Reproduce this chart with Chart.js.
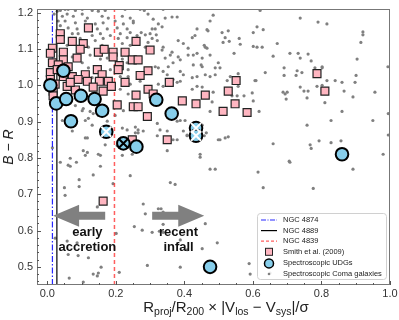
<!DOCTYPE html>
<html>
<head>
<meta charset="utf-8">
<script src="https://cdn.jsdelivr.net/npm/chart.js@4.4.1/dist/chart.umd.min.js"></script>
<style>
  body { margin: 0; background: #fff; }
  #wrap { position: relative; width: 399px; height: 320px; }
  #xtitle {
    position: absolute; top: 298px; left: 52px; width: 348px;
    text-align: center; font: 15px "Liberation Sans", Arial, sans-serif; color: #222;
    white-space: nowrap;
  }
  #xtitle sub { font-size: 10.5px; vertical-align: -3px; line-height: 0; }
</style>
</head>
<body>
<div id="wrap">
  <canvas id="myChart" width="399" height="320"></canvas>
  <div id="xtitle">R<sub>proj</sub>/R<sub>200</sub> × |V<sub>los</sub> − V<sub>sys</sub>|/σ</div>
</div>
<script>
// axis limits
const xMin = -0.03, xMax = 1.0
const yMin = 0.45, yMax = 1.21

// cluster reference lines (x positions)
const ngc4874 = 0.015
const ngc4889 = 0.028
const ngc4839 = 0.196

// spectroscopic UDGs
const udgs = [[0.009,1.000],[0.047,1.040],[0.026,0.950],[0.055,0.962],[0.098,0.971],[0.138,0.962],
  [0.160,0.930],[0.069,0.901],[0.172,0.872],[0.222,0.840],[0.260,0.831],[0.318,0.960],[0.363,0.922],
  [0.434,0.882],[0.434,0.861],[0.860,0.810],[0.475,0.500]]
const crossedWhite = [[0.172,0.872],[0.434,0.882],[0.434,0.861]]
const crossedBlack = [[0.222,0.840]]

// Smith et al. (2009)
const smith = [[0.120,1.158],[0.038,1.142],[0.038,1.126],[0.073,1.121],[0.105,1.115],[0.259,1.121],
  [0.015,1.102],[0.047,1.091],[0.096,1.099],[0.009,1.088],[0.149,1.091],[0.166,1.099],[0.192,1.091],
  [0.192,1.078],[0.227,1.091],[0.300,1.097],[0.087,1.075],[0.047,1.070],[0.015,1.062],[0.032,1.056],
  [0.061,1.051],[0.248,1.070],[0.265,1.070],[0.210,1.054],[0.146,1.043],[0.207,1.043],[0.294,1.040],
  [0.160,1.029],[0.271,1.027],[0.111,1.029],[0.047,1.024],[0.073,1.024],[0.009,1.035],[0.009,1.016],
  [0.090,1.016],[0.117,1.011],[0.152,1.011],[0.178,1.011],[0.227,1.008],[0.356,1.008],[0.058,0.997],
  [0.134,0.995],[0.187,0.997],[0.017,0.984],[0.082,0.987],[0.163,0.984],[0.294,0.989],[0.017,0.971],
  [0.259,0.973],[0.309,0.976],[0.394,0.957],[0.434,0.949],[0.204,0.946],[0.251,0.941],[0.265,0.941],
  [0.292,0.914],[0.350,0.850],[0.248,0.850],[0.461,0.973],[0.528,0.984],[0.513,0.928],[0.551,1.013],
  [0.548,0.949],[0.583,0.925],[0.787,1.032],[0.810,0.984],[0.163,0.681],[0.029,1.043],[0.023,1.003],
  [0.067,1.008]]

// spectroscopic Coma galaxies
const coma = [[0.029,1.204],[0.038,1.206],[0.052,1.209],[0.061,1.209],[0.082,1.206],[0.102,1.209],
  [0.131,1.206],[0.149,1.204],[0.169,1.206],[0.227,1.209],[0.020,1.196],[0.044,1.190],[0.058,1.196],
  [0.076,1.190],[0.102,1.196],[0.117,1.185],[0.160,1.190],[0.178,1.185],[0.219,1.190],[0.242,1.185],
  [0.032,1.177],[0.052,1.177],[0.082,1.172],[0.111,1.177],[0.140,1.169],[0.163,1.172],[0.198,1.177],
  [0.222,1.169],[0.251,1.172],[0.038,1.164],[0.061,1.158],[0.087,1.155],[0.146,1.155],[0.175,1.155],
  [0.204,1.158],[0.233,1.155],[0.047,1.145],[0.073,1.142],[0.090,1.142],[0.131,1.137],[0.155,1.142],
  [0.184,1.137],[0.213,1.142],[0.067,1.129],[0.096,1.129],[0.140,1.123],[0.163,1.129],[0.207,1.129],
  [0.233,1.131],[0.058,1.110],[0.120,1.105],[0.160,1.110],[0.219,1.115],[0.242,1.110],[0.073,1.078],
  [0.125,1.083],[0.155,1.072],[0.175,1.075],[0.219,1.072],[0.233,1.062],[0.102,1.062],[0.120,1.048],
  [0.207,1.051],[0.236,1.043],[0.184,1.043],[0.213,1.024],[0.236,1.024],[0.131,1.021],
  [0.271,1.209],[0.283,1.206],[0.338,1.209],[0.294,1.196],[0.309,1.182],[0.344,1.185],[0.364,1.188],
  [0.379,1.188],[0.324,1.169],[0.335,1.161],[0.475,1.177],[0.484,1.193],[0.251,1.177],[0.242,1.145],
  [0.274,1.145],[0.262,1.137],[0.306,1.155],[0.315,1.155],[0.300,1.142],[0.318,1.139],[0.286,1.139],
  [0.437,1.155],[0.423,1.131],[0.431,1.137],[0.397,1.115],[0.382,1.123],[0.510,1.145],[0.519,1.131],
  [0.469,1.150],[0.513,1.118],[0.306,1.129],[0.294,1.118],[0.321,1.123],[0.286,1.105],[0.262,1.113],
  [0.338,1.105],[0.335,1.097],[0.364,1.091],[0.411,1.102],[0.461,1.105],[0.466,1.102],[0.426,1.083],
  [0.411,1.083],[0.437,1.088],[0.452,1.075],[0.475,1.083],[0.344,1.075],[0.359,1.083],[0.382,1.078],
  [0.388,1.070],[0.367,1.062],[0.426,1.056],[0.449,1.056],[0.499,1.062],[0.504,1.048],[0.490,1.048],
  [0.353,1.051],[0.315,1.051],[0.324,1.048],[0.338,1.038],[0.350,1.029],[0.388,1.038],[0.397,1.029],
  [0.461,1.029],[0.475,1.024],[0.437,1.024],[0.423,1.021],[0.367,1.016],[0.388,1.011],[0.490,1.029],
  [0.534,1.024],[0.621,1.206],[0.738,1.185],[0.790,1.174],[0.528,1.150],[0.612,1.161],[0.630,1.153],
  [0.601,1.145],[0.560,1.129],[0.531,1.121],[0.563,1.113],[0.601,1.107],[0.612,1.105],[0.627,1.105],
  [0.671,1.115],[0.545,1.088],[0.659,1.080],[0.708,1.088],[0.732,1.088],[0.761,1.086],[0.738,1.075],
  [0.770,1.067],[0.802,1.048],[0.691,1.048],[0.636,1.035],[0.691,1.027],[0.729,1.040],[0.743,1.035],
  [0.726,1.027],[0.781,1.048],[0.557,1.032],[0.606,1.013],[0.466,1.153],[0.458,1.110],[0.452,1.051],
  [0.816,1.169],[0.921,1.147],[0.921,1.139],[0.915,1.118],[0.904,1.072],[0.994,1.051],[0.901,1.027],
  [0.802,1.051],[0.816,1.013],[0.840,1.013],[0.860,1.008],[0.898,1.008],[0.866,0.984],[0.892,0.968],
  [0.956,0.981],[0.810,0.952],[0.860,0.928],[0.995,0.922],[0.828,0.903],[0.950,0.903],[0.995,0.863],
  [0.828,0.842],[0.857,0.847],[0.980,0.810],[0.525,1.013],[0.557,0.997],[0.609,1.013],[0.738,0.995],
  [0.749,0.984],[0.761,0.984],[0.787,0.997],[0.802,1.000],[0.688,0.981],[0.700,0.981],[0.694,0.976],
  [0.697,0.962],[0.758,0.965],[0.539,0.971],[0.554,0.971],[0.574,0.971],[0.598,0.979],[0.601,0.957],
  [0.618,0.928],[0.758,0.890],[0.528,0.858],[0.793,0.847],[0.659,0.839],[0.767,0.836],[0.770,0.826],
  [0.504,0.850],[0.458,0.861],[0.706,0.791],[0.446,0.802],[0.475,0.769],[0.490,0.769],[0.615,0.761],
  [0.708,0.788],[0.892,0.769],[0.630,0.718],[0.776,0.716],[0.461,0.619],[0.496,0.566],[0.452,0.550],
  [0.589,0.509],[0.592,0.480],[0.650,0.483],[0.038,0.788],[0.061,0.780],[0.067,0.777],[0.085,0.788],
  [0.155,0.777],[0.242,0.751],[0.134,0.753],[0.093,0.740],[0.192,0.729],[0.359,0.732],[0.373,0.727],
  [0.050,0.718],[0.052,0.697],[0.093,0.721],[0.280,0.673],[0.332,0.660],[0.324,0.660],[0.338,0.651],
  [0.146,0.665],[0.286,0.646],[0.338,0.617],[0.254,0.611],[0.277,0.601],[0.306,0.595],[0.327,0.598],
  [0.338,0.595],[0.201,0.592],[0.058,0.571],[0.087,0.566],[0.388,0.574],[0.408,0.547],[0.061,0.534],
  [0.090,0.531],[0.120,0.525],[0.157,0.499],[0.134,0.480],[0.146,0.475],[0.149,0.483],[0.210,0.485],
  [0.064,0.469],[0.105,0.458],[0.292,0.504],[0.388,0.499],[0.023,0.579],[0.105,0.936],[0.134,0.922],
  [0.120,0.909],[0.111,0.855],[0.233,0.877],[0.257,0.885],[0.280,0.874],[0.265,0.869],[0.321,0.895],
  [0.329,0.877],[0.367,0.850],[0.408,0.861],[0.111,0.807],[0.155,0.807],[0.067,0.799],[0.105,0.820],
  [0.219,0.807],[0.350,0.820],[0.082,0.944],[0.102,0.930],[0.125,0.928],[0.149,0.917],[0.198,0.917],
  [0.222,0.930],[0.044,0.903],[0.111,0.903],[0.175,0.901],[0.131,0.890],[0.073,0.874],[0.117,0.855],
  [0.160,0.882],[0.219,0.882],[0.169,0.836],[0.204,0.834],[0.149,0.810],[0.117,0.815],[0.015,0.828],
  [0.248,0.810],[0.213,0.989],[0.236,0.976],[0.242,1.003],[0.324,1.003],[0.338,0.997],[0.437,0.997],
  [0.452,0.995],[0.379,1.008],[0.423,0.989],[0.481,0.954],[0.475,0.928],[0.379,0.901],[0.388,0.903],
  [0.402,0.903],[0.397,0.874],[0.408,0.863],[0.350,0.874],[0.452,0.890],[0.464,0.869],[0.499,0.850],
  [0.519,0.855],[0.321,0.861],[0.379,0.850],[0.257,0.869],[0.265,0.877],[0.446,0.810],[0.271,1.011],
  [0.484,0.981]]

// annotation arrows and labels (data units)
const arrows = [{from: 0.169, to: 0.017, y: 0.641}, {from: 0.306, to: 0.458, y: 0.641}]
const notes = [{text: ['early', 'accretion'], x: 0.117, y: 0.573}, {text: ['recent', 'infall'], x: 0.383, y: 0.573}]

function pts(a) { return a.map(p => ({x: p[0], y: p[1]})) }
function vline(v) { return [{x: v, y: yMin}, {x: v, y: yMax}] }

const blueLine = 'rgba(0,0,255,0.85)'
const redLine = 'rgba(255,40,40,0.75)'

function drawArrow(ctx, x0, x1, y) {
  const dir = x1 > x0 ? 1 : -1
  const headLen = 26, headW = 11, shaftW = 4
  const xb = x1 - dir * headLen
  ctx.beginPath()
  ctx.moveTo(x0, y - shaftW)
  ctx.lineTo(xb, y - shaftW)
  ctx.lineTo(xb, y - headW)
  ctx.lineTo(x1, y)
  ctx.lineTo(xb, y + headW)
  ctx.lineTo(xb, y + shaftW)
  ctx.lineTo(x0, y + shaftW)
  ctx.closePath()
  ctx.fill()
}

const decor = {
  id: 'decor',
  afterDatasetsDraw(chart) {
    const ctx = chart.ctx
    const a = chart.chartArea
    const xs = chart.scales.x, ys = chart.scales.y
    ctx.save()
    // arrows
    ctx.fillStyle = '#808080'
    arrows.forEach(ar => drawArrow(ctx, xs.getPixelForValue(ar.from), xs.getPixelForValue(ar.to), ys.getPixelForValue(ar.y)))
    // labels
    ctx.fillStyle = '#111'
    ctx.font = 'bold 13px "Liberation Sans", Arial, sans-serif'
    ctx.textAlign = 'center'
    ctx.textBaseline = 'middle'
    notes.forEach(n => {
      const px = xs.getPixelForValue(n.x), py = ys.getPixelForValue(n.y)
      ctx.fillText(n.text[0], px, py - 7.5)
      ctx.fillText(n.text[1], px, py + 7.5)
    })
    // frame
    ctx.strokeStyle = '#777'
    ctx.lineWidth = 1
    ctx.strokeRect(a.left + 0.5, a.top + 0.5, a.right - a.left - 1, a.bottom - a.top - 1)
    // inward ticks, left and bottom
    ctx.strokeStyle = '#555'
    ctx.beginPath()
    const xt = xs.ticks.map(t => t.value)
    const xstep = xt[1] - xt[0]
    for (let v = xt[0] - xstep; v <= xMax + 1e-9; v += xstep / 4) {
      if (v < xMin) continue
      const px = Math.round(xs.getPixelForValue(v)) + 0.5
      const major = xt.some(t => Math.abs(t - v) < 1e-6)
      ctx.moveTo(px, a.bottom)
      ctx.lineTo(px, a.bottom - (major ? 4 : 2))
    }
    const yt = ys.ticks.map(t => t.value)
    const ystep = yt[1] - yt[0]
    for (let v = yt[0] - ystep; v <= yMax + 1e-9; v += ystep / 5) {
      if (v < yMin) continue
      const py = Math.round(ys.getPixelForValue(v)) + 0.5
      const major = yt.some(t => Math.abs(t - v) < 1e-6)
      ctx.moveTo(a.left, py)
      ctx.lineTo(a.left + (major ? 4 : 2), py)
    }
    ctx.stroke()
    ctx.restore()
  },
  afterDraw(chart) {
    const ctx = chart.ctx
    const a = chart.chartArea
    ctx.save()
    // legend box in lower right corner
    const bw = 129, bh = 66
    const bx = a.right - bw - 4, by = a.bottom - bh - 6
    ctx.fillStyle = 'rgba(255,255,255,0.85)'
    ctx.strokeStyle = '#d0d0d0'
    ctx.lineWidth = 1
    ctx.beginPath()
    ctx.roundRect(bx + 0.5, by + 0.5, bw, bh, 3)
    ctx.fill()
    ctx.stroke()
    const rows = ['NGC 4874', 'NGC 4889', 'NGC 4839', 'Smith et al. (2009)', 'Spectroscopic UDGs', 'Spectroscopic Coma galaxies']
    const hx = bx + 4, hw = 16, cx = hx + hw / 2
    ctx.font = '7.5px "Liberation Sans", Arial, sans-serif'
    ctx.textBaseline = 'middle'
    rows.forEach((r, i) => {
      const ry = by + 7 + i * 10.6 + (i > 3 ? 1 : 0)
      ctx.save()
      if (i < 3) {
        ctx.lineWidth = 1.2
        ctx.strokeStyle = [blueLine, '#000', redLine][i]
        ctx.setLineDash([[5, 1.5, 1, 1.5], [], [3, 2]][i])
        ctx.beginPath()
        ctx.moveTo(hx, ry)
        ctx.lineTo(hx + hw, ry)
        ctx.stroke()
      } else if (i === 3) {
        ctx.fillStyle = '#FFB6C1'
        ctx.strokeStyle = '#222'
        ctx.lineWidth = 1
        ctx.fillRect(cx - 3.5, ry - 3.5, 7, 7)
        ctx.strokeRect(cx - 3.5, ry - 3.5, 7, 7)
      } else if (i === 4) {
        ctx.fillStyle = '#87CEEB'
        ctx.strokeStyle = '#000'
        ctx.lineWidth = 1.5
        ctx.beginPath()
        ctx.arc(cx, ry, 4.5, 0, Math.PI * 2)
        ctx.fill()
        ctx.stroke()
      } else {
        ctx.fillStyle = '#808080'
        ctx.beginPath()
        ctx.arc(cx, ry, 1.3, 0, Math.PI * 2)
        ctx.fill()
      }
      ctx.restore()
      ctx.fillStyle = '#222'
      ctx.fillText(r, hx + hw + 6, ry)
    })
    ctx.restore()
  }
}

const tickFont = {family: '"Liberation Sans", Arial, sans-serif', size: 11}

new Chart(document.getElementById('myChart').getContext('2d'), {
  type: 'scatter',
  data: {
    datasets: [
      {label: 'crossed', data: pts(crossedWhite), pointStyle: 'crossRot', pointRadius: 7, borderColor: '#fff', borderWidth: 2, backgroundColor: '#fff'},
      {label: 'crossed2', data: pts(crossedBlack), pointStyle: 'crossRot', pointRadius: 7, borderColor: '#000', borderWidth: 2, backgroundColor: '#000'},
      {label: 'Spectroscopic UDGs', data: pts(udgs), pointRadius: 6.3, backgroundColor: '#87CEEB', borderColor: '#000', borderWidth: 2},
      {label: 'Smith et al. (2009)', data: pts(smith), pointStyle: 'rect', pointRadius: 5.6, backgroundColor: '#FFB6C1', borderColor: '#222', borderWidth: 1.2},
      {label: 'NGC 4839', data: vline(ngc4839), showLine: true, pointRadius: 0, borderColor: redLine, borderWidth: 1.5, borderDash: [4, 3]},
      {label: 'NGC 4889', data: vline(ngc4889), showLine: true, pointRadius: 0, borderColor: '#000', borderWidth: 1.2},
      {label: 'NGC 4874', data: vline(ngc4874), showLine: true, pointRadius: 0, borderColor: blueLine, borderWidth: 1.2, borderDash: [6, 2, 1.5, 2]},
      {label: 'Spectroscopic Coma galaxies', data: pts(coma), pointRadius: 1.6, backgroundColor: '#808080', borderWidth: 0}
    ]
  },
  options: {
    responsive: false,
    animation: false,
    events: [],
    layout: {padding: {left: 0, right: 7, top: 2, bottom: 0}},
    plugins: {legend: {display: false}, tooltip: {enabled: false}},
    scales: {
      x: {
        min: xMin, max: xMax,
        grid: {display: false, drawTicks: false},
        border: {display: false},
        ticks: {stepSize: 0.2, includeBounds: false, color: '#333', font: tickFont, padding: 2,
          callback: v => v.toFixed(1)},
        afterFit: s => { s.height = 35; s.paddingLeft = 0; s.paddingRight = 0 }
      },
      y: {
        min: yMin, max: yMax,
        grid: {display: false, drawTicks: false},
        border: {display: false},
        title: {display: true, text: 'B − R', color: '#222', padding: {top: 1, bottom: 0},
          font: {family: '"Liberation Sans", Arial, sans-serif', size: 14, style: 'italic'}},
        ticks: {stepSize: 0.1, includeBounds: false, color: '#333', font: tickFont, padding: 4,
          callback: v => v.toFixed(1)},
        afterFit: s => { s.width = 37; s.paddingTop = 0; s.paddingBottom = 0 }
      }
    }
  },
  plugins: [decor]
})
</script>
</body>
</html>
